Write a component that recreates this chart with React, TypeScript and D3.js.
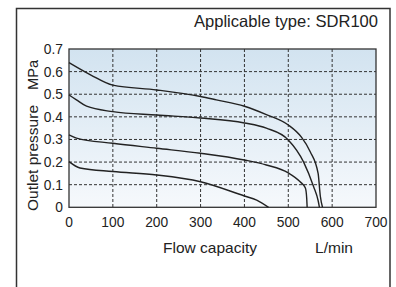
import React from 'react';
import * as d3 from 'd3';

// flow (L/min) vs outlet pressure (MPa)
const curve1Flow = [0, 50, 100, 200, 300, 336, 400, 450, 500, 530, 550, 568, 573, 578];
const curve1Pres = [0.64, 0.585, 0.54, 0.519, 0.49, 0.475, 0.447, 0.41, 0.364, 0.31, 0.246, 0.15, 0.05, 0];
const curve2Flow = [0, 17, 40, 100, 200, 300, 400, 450, 500, 535, 558, 568, 571];
const curve2Pres = [0.497, 0.475, 0.447, 0.423, 0.408, 0.395, 0.373, 0.35, 0.298, 0.2, 0.09, 0.03, 0];
const curve3Flow = [0, 17, 100, 200, 300, 400, 450, 500, 527, 539, 542, 543];
const curve3Pres = [0.32, 0.306, 0.283, 0.261, 0.239, 0.209, 0.187, 0.152, 0.113, 0.085, 0.04, 0];
const curve4Flow = [0, 25, 100, 200, 300, 400, 428, 455];
const curve4Pres = [0.202, 0.174, 0.158, 0.143, 0.113, 0.05, 0.032, 0];

const xTicks = [0, 100, 200, 300, 400, 500, 600, 700];
const yTicks = [0, 0.1, 0.2, 0.3, 0.4, 0.5, 0.6, 0.7];

const W = 396;
const H = 287;
const left = 69, right = 376, top = 49, bottom = 207.3;

export default function App() {
  const x = d3.scaleLinear().domain([0, 700]).range([left, right]);
  const y = d3.scaleLinear().domain([0, 0.7]).range([bottom, top]);

  const series = [
    [curve1Flow, curve1Pres],
    [curve2Flow, curve2Pres],
    [curve3Flow, curve3Pres],
    [curve4Flow, curve4Pres],
  ];
  const line = d3.line<[number, number]>()
    .x(d => x(d[0]))
    .y(d => y(d[1]))
    .curve(d3.curveMonotoneX);

  const font = '"Liberation Sans", Arial, sans-serif';

  return (
    <svg width={W} height={H} style={{ position: 'absolute', left: 0, top: 0, background: '#fff' }}>
      <defs>
        <linearGradient id="bg" x1="0" y1="0" x2="0" y2="1">
          <stop offset="0%" stopColor="#d2e3f0" />
          <stop offset="100%" stopColor="#f6f9fc" />
        </linearGradient>
      </defs>
      {/* outer frame */}
      <path d={`M16.5,${H} V8.5 H390 V${H}`} fill="none" stroke="#333" strokeWidth={1.5} />
      <text x={378} y={27} textAnchor="end" fontFamily={font} fontSize={16.5} fill="#222"
        textLength={184} lengthAdjust="spacingAndGlyphs">Applicable type: SDR100</text>

      <rect x={left} y={top} width={right - left} height={bottom - top} fill="url(#bg)" />
      {/* grid */}
      {xTicks.slice(1, -1).map(t => (
        <line key={'gx' + t} x1={x(t)} x2={x(t)} y1={top} y2={bottom}
          stroke="#333" strokeWidth={1} strokeDasharray="3,2" />
      ))}
      {yTicks.slice(1, -1).map(t => (
        <line key={'gy' + t} x1={left} x2={right} y1={y(t)} y2={y(t)}
          stroke="#333" strokeWidth={1} strokeDasharray="3,2" />
      ))}
      <rect x={left} y={top} width={right - left} height={bottom - top} fill="none" stroke="#333" strokeWidth={1.3} />

      {series.map(([fx, py], i) => (
        <path key={i} d={line(fx.map((v, j) => [v, py[j]] as [number, number])) || ''}
          fill="none" stroke="#222" strokeWidth={1.4} />
      ))}

      {/* tick labels */}
      {xTicks.map(t => (
        <text key={'tx' + t} x={x(t)} y={227} textAnchor="middle" fontFamily={font} fontSize={15}
          fill="#222" transform={`translate(${x(t)},0) scale(0.92,1) translate(${-x(t)},0)`}>{t}</text>
      ))}
      {yTicks.map(t => (
        <text key={'ty' + t} x={63} y={y(t) + 5} textAnchor="end" fontFamily={font} fontSize={15}
          fill="#222" transform={`translate(63,0) scale(0.92,1) translate(-63,0)`}>{t === 0 ? '0' : t.toFixed(1)}</text>
      ))}

      <text x={210} y={253} textAnchor="middle" fontFamily={font} fontSize={15} fill="#222"
        textLength={94} lengthAdjust="spacingAndGlyphs">Flow capacity</text>
      <text x={334} y={253} textAnchor="middle" fontFamily={font} fontSize={15} fill="#222"
        textLength={38} lengthAdjust="spacingAndGlyphs">L/min</text>

      <text transform="translate(37.5,158) rotate(-90)" textAnchor="middle" fontFamily={font} fontSize={15}
        fill="#222" textLength={106} lengthAdjust="spacingAndGlyphs">Outlet pressure</text>
      <text transform="translate(37.5,75) rotate(-90)" textAnchor="middle" fontFamily={font} fontSize={15}
        fill="#222" textLength={30} lengthAdjust="spacingAndGlyphs">MPa</text>
    </svg>
  );
}
